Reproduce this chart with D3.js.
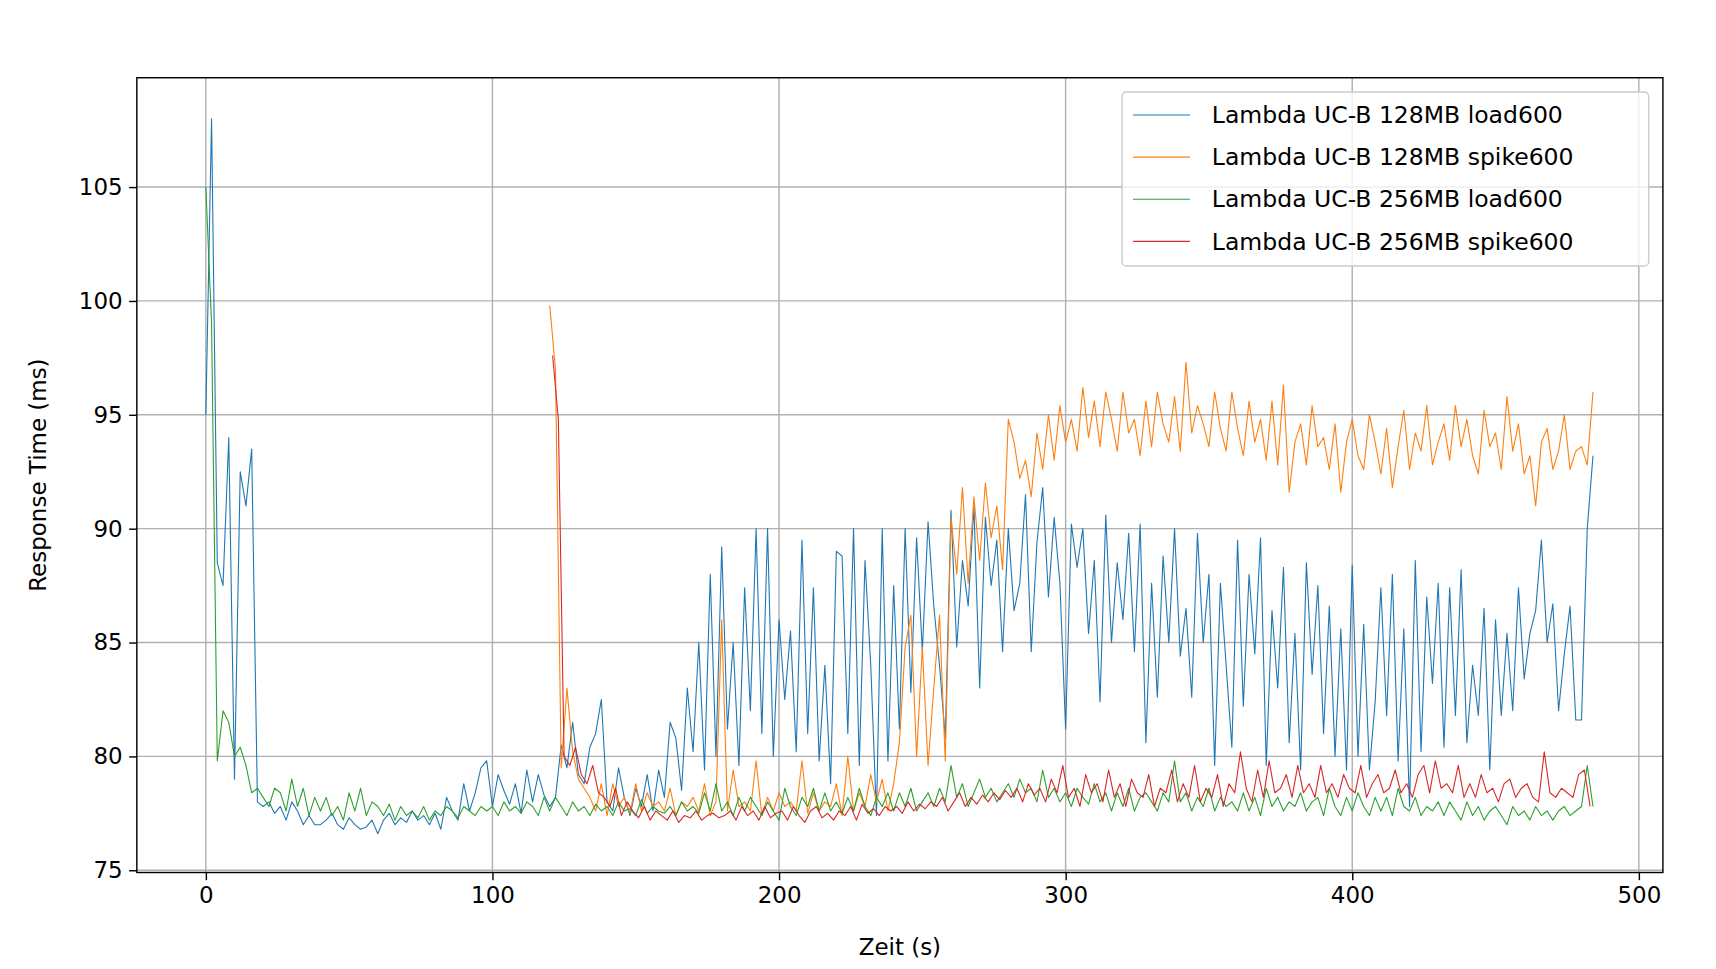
<!DOCTYPE html>
<html><head><meta charset="utf-8">
<script src="https://cdn.jsdelivr.net/npm/d3@7"></script>
<style>body{margin:0;background:#fff}svg{font-family:"DejaVu Sans",sans-serif}</style>
</head><body><svg id="c" width="1716" height="969"></svg>
<script>
const seriesNames=["Lambda UC-B 128MB load600","Lambda UC-B 128MB spike600","Lambda UC-B 256MB load600","Lambda UC-B 256MB spike600"];
const seriesColors=["#1f77b4","#ff7f0e","#2ca02c","#d62728"];
const xTicks=[0,100,200,300,400,500];
const yTicks=[75,80,85,90,95,100,105];
const step=2;
const blueStart=0,orangeStart=120,greenStart=0,redStart=121;
const blue=[95,108,88.5,87.5,94,79,92.5,91,93.5,78,
77.8,78,77.5,77.8,77.2,78,77.6,77,77.4,77,
77,77.2,77.5,77,76.8,77.3,77,76.8,76.9,77.2,
76.6,77.2,77.5,77,77.3,77.1,77.6,77.2,77.4,77,
77.5,76.8,78.2,77.6,77.2,78.8,77.6,78.4,79.5,79.8,
77.8,79.2,78.5,77.9,78.8,77.5,79.4,78,79.2,78.3,
77.8,78.2,80.5,79.5,81.5,79.2,78.8,80.4,81,82.5,
78,77.6,79.5,78.2,77.4,78.6,77.8,79.2,77.6,79.4,
78.2,81.5,80.8,78.5,83,80.2,85,79.4,88,80,
89.2,81.2,85,79.6,87.4,82,90,81,90,80,
86,82.5,85.5,80.2,89.5,81,87.4,79.8,84,78.8,
89,88.8,81,90,79.6,88.6,84,77.4,90,79.8,
87.5,81.2,90,82.8,89.6,84.6,90.3,86.6,84,80.8,
90.8,84.8,88.6,86.6,91,83,90.5,87.5,89.5,84.6,
90,86.4,87.6,91.5,84.6,89.4,91.8,87,90.5,87.6,
81.2,90.2,88.3,90,85.4,88.6,82.4,90.6,85,88.5,
86,89.8,84.6,90.2,80.6,87.6,82.6,88.8,85,90,
84.4,86.5,82.6,89.8,85,88,79.6,87.6,84,80.4,
89.5,82.2,88,84.5,89.6,79.6,86.4,83,88.3,80.6,
85.4,79.4,88.5,83.6,87.5,81,86.6,80,85.6,79.4,
88.4,80,85.8,79.4,82.4,87.4,81.8,88,79.8,85.6,
77.8,88.6,80.2,87,83.2,87.6,80.4,87.4,81.8,88.2,
80.6,84,81.8,86.5,79.4,86,81.8,85.4,82,87.4,
83.4,85.4,86.4,89.5,85,86.7,82,84.5,86.6,81.6,
81.6,90,93.2];
const orange=[99.8,97,79.5,83,80.2,79,78.6,78.2,77.6,78.8,
77.4,78.8,77.8,78.2,77.5,78.8,77.6,78.4,77.8,78,
77.6,78.6,77.4,78,77.8,78.2,77.6,78.8,77.4,78,
86,77.6,79.4,77.8,78,77.6,79.8,77.4,78.2,77.6,
78.4,77.8,78,77.6,79.8,77.5,78.4,77.6,78,77.8,
78.8,77.4,80,77.6,78.4,77.8,79.2,78,79,77.6,
78.8,80.6,84.8,86.2,80,84.8,79.6,83,86.2,79.8,
90.5,88,91.8,87.6,91.4,88.6,92,89.6,91,88.2,
94.8,93.8,92.2,93,91.4,94.2,92.6,95,93,95.4,
93.8,94.8,93.4,96.2,94,95.6,93.6,96,94.8,93.4,
96,94.2,94.8,93.2,95.6,93.6,96,94.6,93.8,95.8,
93.4,97.3,94.2,95.4,94.6,93.6,96,94.4,93.4,96,
94.4,93.2,95.6,93.8,94.8,93,95.6,92.8,96.3,91.6,
93.8,94.6,92.8,95.4,93.6,94,92.6,94.6,91.6,93.8,
94.8,93.2,92.6,95,93.8,92.4,94.4,91.8,93.6,95.2,
92.6,94.2,93.4,95.4,92.8,93.8,94.6,93,95.4,93.6,
94.8,93.2,92.4,95.2,93.6,94.2,92.6,95.8,93.4,94.6,
92.4,93.2,91,93.8,94.4,92.6,93.4,95,92.6,93.4,
93.6,92.8,96];
const green=[105,99,79.8,82,81.5,80,80.4,79.6,78.4,78.6,
78.2,77.8,78.6,78.4,77.6,79,77.8,78.6,77.4,78.2,
77.6,78.2,77.4,77.8,77.2,78.4,77.6,78.6,77.4,78,
77.8,77.4,77.9,77.2,77.8,77.4,77.6,77.3,77.8,77.2,
77.6,77.4,77.8,77.6,77.3,77.8,77.6,77.4,77.8,77.6,
77.8,77.4,78,77.6,77.8,77.5,78,77.8,77.4,78.2,
77.6,78.2,77.8,77.4,78,77.6,77.8,77.4,77.9,77.6,
77.8,77.4,78,77.6,77.7,77.4,78.1,77.5,77.8,77.6,
77.5,77.8,77.4,78,77.6,77.8,77.5,78.4,77.6,78.8,
77.6,78,77.4,78.2,77.6,78.2,77.8,77.4,78,77.6,
77.2,78.6,77.8,77.4,78.2,77.8,78.6,77.6,78.4,77.6,
78,77.5,78.2,77.6,78.6,77.8,77.4,78.2,77.8,78.4,
77.6,78.4,77.8,78.6,77.6,78,78.4,77.8,78.6,78,
79.6,78.2,78.8,77.8,78.4,79,78.2,78.6,78,78.4,
78.8,78.2,79,78.4,78.6,78,79.4,78.2,78.6,78,
78.4,77.8,78.6,78.2,77.9,78.8,78,78.4,77.6,78.4,
77.8,78.6,77.6,78.2,78.4,78,77.6,78.4,78,79.8,
78,78.4,77.6,78.2,77.8,78.6,77.6,78.2,77.8,78,
77.6,78.4,77.6,78.2,77.4,78.6,77.8,78.2,77.6,78,
77.8,78.4,77.6,78,78.2,77.4,78.6,77.8,77.4,78.2,
77.6,78.4,77.8,77.4,78.2,77.6,78.2,77.4,78.6,77.8,
77.6,78.2,77.4,77.8,77.6,78,77.4,78,77.6,77.2,
78,77.4,77.8,77.2,77.6,77.8,77.4,77,77.8,77.4,
77.6,77.2,77.8,77.4,77.6,77.2,77.6,77.8,77.4,77.6,
77.8,79.6,77.8];
const red=[97.6,94.8,80,79.6,80.4,79.2,78.8,79.6,78.4,78.2,
77.8,78.6,77.4,78,77.6,77.3,77.8,77.2,77.6,77.4,
77.2,77.6,77.1,77.4,77.3,77.6,77.2,77.4,77.5,77.3,
77.4,77.6,77.2,77.8,77.4,77.6,77.2,77.8,77.3,77.5,
77.6,77.2,77.8,77.4,77.1,77.6,77.8,77.3,77.5,77.2,
77.6,77.4,77.8,77.2,77.9,77.5,77.7,77.4,77.8,77.6,
77.8,77.5,78,77.6,77.9,77.7,78,77.8,78.2,77.6,
78,78.4,77.8,78.2,77.9,78.3,78,78.4,78.1,78.5,
78.2,78.6,78,78.8,78.3,78.6,78,79,78.4,79.6,
78.2,78.6,77.8,79.2,78.4,78.8,78,79.4,78.2,78.8,
77.8,79,78.4,78.2,79.2,77.8,78.6,78.4,79.4,78,
78.8,78.2,79.6,78,78.6,78.2,79.2,77.8,78.8,78.4,
80.2,78.6,78,79.4,78.2,79.8,78.4,78.6,79.2,78.2,
79.6,78.4,78.8,78.2,79.6,78.4,78.8,78.2,79.2,78.6,
78.4,79.6,78.2,78.8,79.2,78.4,78.6,79.4,78.4,78.8,
78.2,79.2,79.6,78.4,79.8,78.6,78.8,78.4,79.6,78.2,
78.8,78.2,79.2,78.4,78.6,78,78.8,79,78.2,78.6,
78.8,78.2,78,80.2,78.4,78.2,78.6,78.4,78.2,79.2,
79.4,77.8];
const series=[[blue,blueStart],[orange,orangeStart],[green,greenStart],[red,redStart]];

const K=1716/1567.5;
const svg=d3.select("#c").append("g").attr("transform",`scale(${K})`);
const L=125,R=1519,T=71,B=797;
const x=d3.scaleLinear().domain([-24.07,508.4]).range([L,R]);
const y=d3.scaleLinear().domain([74.9,109.8]).range([B,T]);
const g=svg.append("g");
g.selectAll(".gx").data(xTicks).enter().append("line").attr("x1",d=>x(d)).attr("x2",d=>x(d)).attr("y1",T).attr("y2",B).attr("stroke","#b0b0b0").attr("stroke-width",1.3);
g.selectAll(".gy").data(yTicks).enter().append("line").attr("y1",d=>y(d)).attr("y2",d=>y(d)).attr("x1",L).attr("x2",R).attr("stroke","#b0b0b0").attr("stroke-width",1.3);
const line=d3.line().x(d=>x(d[0])).y(d=>y(d[1]));
series.forEach(([vals,start],i)=>{
  const pts=vals.map((v,k)=>[start+k*step,v]);
  g.append("path").attr("d",line(pts)).attr("fill","none").attr("stroke",seriesColors[i]).attr("stroke-width",1.0).attr("stroke-linejoin","round");
});
g.append("rect").attr("x",L).attr("y",T).attr("width",R-L).attr("height",B-T).attr("fill","none").attr("stroke","#000").attr("stroke-width",1.3);
const xa=svg.append("g").attr("transform",`translate(0,${B})`).call(d3.axisBottom(x).tickValues(xTicks).tickSize(7).tickPadding(6));
const ya=svg.append("g").attr("transform",`translate(${L},0)`).call(d3.axisLeft(y).tickValues(yTicks).tickSize(7).tickPadding(6));
[xa,ya].forEach(a=>{a.select(".domain").remove();a.selectAll("line").attr("stroke","#000").attr("stroke-width",1.3);a.selectAll("text").attr("font-size",21).attr("font-family","DejaVu Sans").attr("fill","#000");});
svg.append("text").attr("x",(L+R)/2).attr("y",872).attr("text-anchor","middle").attr("font-size",21).text("Zeit (s)");
svg.append("text").attr("transform",`translate(42,${(T+B)/2}) rotate(-90)`).attr("text-anchor","middle").attr("font-size",21).text("Response Time (ms)");
const lg=svg.append("g");
lg.append("rect").attr("x",1025).attr("y",84).attr("width",481).attr("height",159).attr("rx",4).attr("fill","#fff").attr("fill-opacity",0.8).attr("stroke","#ccc").attr("stroke-width",1.3);
seriesNames.forEach((n,i)=>{
  const yy=105+i*38.5;
  lg.append("line").attr("x1",1035).attr("x2",1087).attr("y1",yy).attr("y2",yy).attr("stroke",seriesColors[i]).attr("stroke-width",1.0);
  lg.append("text").attr("x",1107).attr("y",yy+7.5).attr("font-size",21.5).text(n);
});
</script></body></html>
